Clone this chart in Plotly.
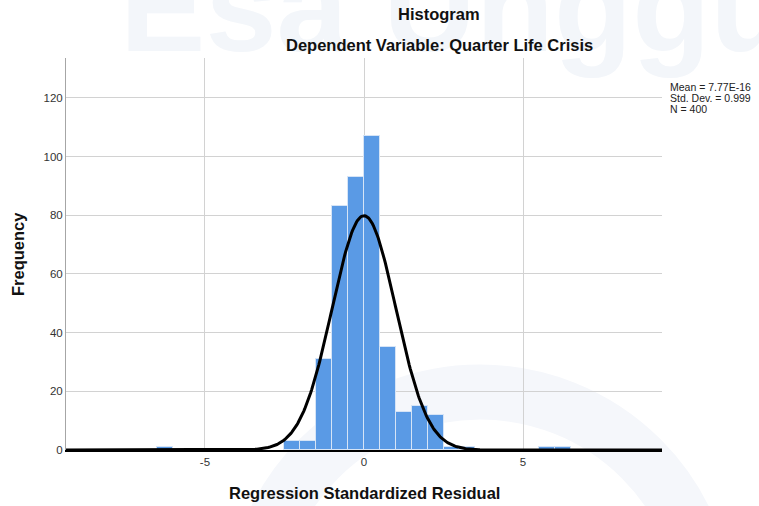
import numpy as np
import plotly.graph_objects as go

# ---- data ----
bin_starts = [-6.5, -2.5, -2.0, -1.5, -1.0, -0.5, 0.0, 0.5, 1.0, 1.5, 2.0, 2.5, 3.0, 5.5, 6.0]
counts     = [1,     3,    3,    31,   83,   93,   107, 35,  13,  15,  12,  1,   1,   1,   1]
BIN_WIDTH = 0.5
MEAN, SD, N = 7.77e-16, 0.999, 400
x_ticks = [-5, 0, 5]
y_ticks = [0, 20, 40, 60, 80, 100, 120]
stats_lines = ["Mean = 7.77E-16", "Std. Dev. = 0.999", "N = 400"]

W, H = 759, 506
L, R, T, B = 66, 97, 58, 56
PW, PH = W - L - R, H - T - B
XR = [-9.37, 9.37]
YR = [0, 133.6]

def px(xp):  # pixel x -> paper
    return (xp - L) / PW

def py(yp):  # pixel y -> paper
    return (H - B - yp) / PH

centers = [s + BIN_WIDTH / 2 for s in bin_starts]
xc = np.linspace(XR[0], XR[1], 600)
yc = N * BIN_WIDTH * np.exp(-0.5 * ((xc - MEAN) / SD) ** 2) / (SD * np.sqrt(2 * np.pi))

FONT = "Liberation Sans, Arial, sans-serif"

fig = go.Figure()
fig.add_trace(go.Bar(x=centers, y=counts, width=BIN_WIDTH,
                     marker=dict(color="#5a9ae5", line=dict(color="#d6e4f6", width=1)),
                     hoverinfo="x+y"))
fig.add_trace(go.Scatter(x=xc, y=yc, mode="lines",
                         line=dict(color="#000000", width=3), hoverinfo="skip"))

annotations = [
    # faint watermark
    dict(text="<b>Esa Unggul</b>", x=px(118), y=py(80), xref="paper", yref="paper",
         showarrow=False, xanchor="left", yanchor="bottom",
         font=dict(family=FONT, size=128, color="#f3f6fa")),
    dict(text="<b>Histogram</b>", x=px(439), y=py(14), xref="paper", yref="paper",
         showarrow=False, xanchor="center", yanchor="middle",
         font=dict(family=FONT, size=16.5, color="#111")),
    dict(text="<b>Dependent Variable: Quarter Life Crisis</b>", x=px(439), y=py(45),
         xref="paper", yref="paper", showarrow=False, xanchor="center", yanchor="middle",
         font=dict(family=FONT, size=16.5, color="#111")),
    dict(text="<b>Frequency</b>", x=px(18), y=py(254), xref="paper", yref="paper",
         showarrow=False, textangle=-90, xanchor="center", yanchor="middle",
         font=dict(family=FONT, size=16.5, color="#111")),
    dict(text="<b>Regression Standardized Residual</b>", x=px(364), y=py(493),
         xref="paper", yref="paper", showarrow=False, xanchor="center", yanchor="middle",
         font=dict(family=FONT, size=16.5, color="#111")),
]
for i, line in enumerate(stats_lines):
    annotations.append(dict(text=line, x=px(668), y=py(87 + 11 * i), xref="paper", yref="paper",
                            showarrow=False, xanchor="left", yanchor="middle",
                            font=dict(family=FONT, size=10.5, color="#222")))

shapes = [
    dict(type="circle", xref="paper", yref="paper", layer="below",
         x0=px(480 - 228), x1=px(480 + 228), y0=py(620 + 228), y1=py(620 - 228),
         line=dict(color="#f5f7fb", width=55)),
]

fig.update_layout(
    width=W, height=H,
    margin=dict(l=L, r=R, t=T, b=B, pad=0),
    paper_bgcolor="white", plot_bgcolor="rgba(0,0,0,0)",
    showlegend=False, bargap=0,
    font=dict(family=FONT, size=11.5, color="#333"),
    annotations=annotations, shapes=shapes,
    xaxis=dict(range=XR, tickmode="array", tickvals=x_ticks, ticktext=[str(v) for v in x_ticks],
               showgrid=True, gridcolor="#d2d2d2", gridwidth=1, zeroline=False,
               showline=True, linecolor="#000", linewidth=2, ticks="", fixedrange=True,
               tickfont=dict(size=11.5, color="#333")),
    yaxis=dict(range=YR, tickmode="array", tickvals=y_ticks, ticktext=[str(v) for v in y_ticks],
               showgrid=True, gridcolor="#d2d2d2", gridwidth=1, zeroline=False,
               showline=True, linecolor="#a6a6a6", linewidth=1, ticks="", fixedrange=True,
               tickfont=dict(size=11.5, color="#333")),
)

fig.write_html("out.html", config={"displayModeBar": False},
               post_script="document.body.style.margin='0';")
